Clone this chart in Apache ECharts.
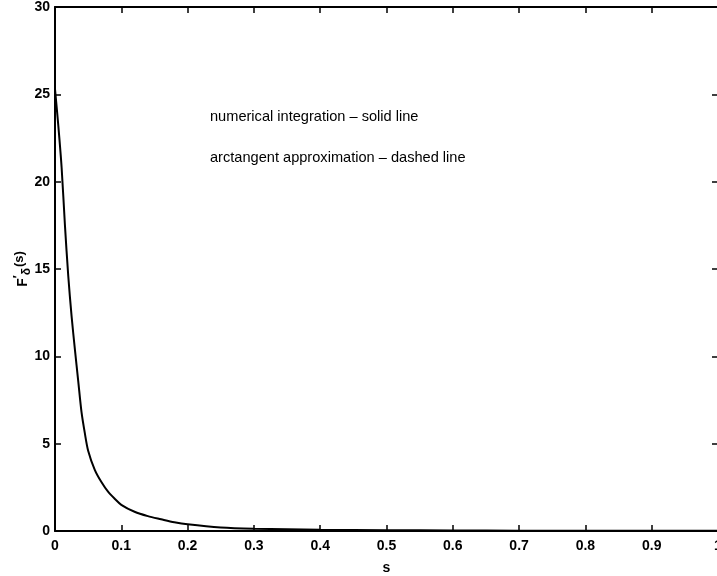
<!DOCTYPE html>
<html>
<head>
<meta charset="utf-8">
<script src="https://cdn.jsdelivr.net/npm/echarts@6/dist/echarts.min.js"></script>
<style>html,body{margin:0;padding:0;background:#fff}#c{width:717px;height:576px}</style>
</head>
<body>
<div id="c"></div>
<script>
const sValues = [0, 0.005, 0.01, 0.015, 0.02, 0.025, 0.03, 0.035, 0.04, 0.045, 0.05, 0.06, 0.07, 0.08, 0.09, 0.1, 0.12, 0.14, 0.16, 0.18, 0.2, 0.25, 0.3, 0.4, 0.5, 0.6, 0.7, 0.8, 0.9, 1.0];
const fValues = [25.3, 23.2, 20.8, 17.5, 14.6, 12.3, 10.4, 8.6, 6.8, 5.6, 4.6, 3.5, 2.8, 2.25, 1.85, 1.5, 1.1, 0.85, 0.67, 0.5, 0.38, 0.2, 0.13, 0.07, 0.045, 0.03, 0.02, 0.015, 0.01, 0.008];
const xTicks = ['0', '0.1', '0.2', '0.3', '0.4', '0.5', '0.6', '0.7', '0.8', '0.9', '1'];
const yTicks = ['0', '5', '10', '15', '20', '25', '30'];
const annotations = ['numerical integration \u2013 solid line', 'arctangent approximation \u2013 dashed line'];

const chart = echarts.init(document.getElementById('c'), null, {renderer: 'canvas'});
const FF = 'Liberation Sans, Arial, sans-serif';
const lab = {fontFamily: FF, fontWeight: 'bold', fontSize: 14, color: '#000'};
const axLine = {show: true, onZero: false, lineStyle: {color: '#000', width: 2}};
const tick = {show: true, inside: true, length: 6, lineStyle: {color: '#000', width: 1.5}};
chart.setOption({
  animation: false,
  backgroundColor: '#fff',
  grid: {left: 55, top: 7, right: -1, bottom: 45, containLabel: false, outerBoundsMode: 'none'},
  xAxis: [{
    type: 'value', min: 0, max: 1, interval: 0.1, position: 'bottom',
    axisLine: axLine, axisTick: tick, splitLine: {show: false},
    axisLabel: Object.assign({margin: 8, formatter: (v) => xTicks[Math.round(v * 10)]}, lab),
    name: 's', nameLocation: 'middle', nameGap: 30, nameMoveOverlap: false,
    nameTextStyle: {fontFamily: FF, fontWeight: 'bold', fontSize: 14, color: '#000'}
  }, {
    type: 'value', min: 0, max: 1, interval: 0.1, position: 'top',
    axisLine: axLine, axisTick: tick, axisLabel: {show: false}, splitLine: {show: false}
  }],
  yAxis: [{
    type: 'value', min: 0, max: 30, interval: 5, position: 'left',
    axisLine: axLine, axisTick: tick, splitLine: {show: false},
    axisLabel: Object.assign({margin: 5, formatter: (v) => yTicks[Math.round(v / 5)]}, lab),
    name: '{f|F}{p|\u2032}{d|\u03b4}{n|(s)}', nameLocation: 'middle', nameGap: 22, nameRotate: 90, nameMoveOverlap: false,
    nameTextStyle: {
      rich: {
        f: {fontFamily: FF, fontWeight: 'bold', fontSize: 14, color: '#000'},
        p: {fontFamily: FF, fontWeight: 'bold', fontSize: 12, color: '#000', padding: [0, 0, 8, 0]},
        d: {fontFamily: FF, fontWeight: 'bold', fontSize: 12, color: '#000', padding: [8, 1, 0, 0]},
        n: {fontFamily: FF, fontWeight: 'bold', fontSize: 13, color: '#000', padding: [0, 0, 7, 0]}
      }
    }
  }, {
    type: 'value', min: 0, max: 30, interval: 5, position: 'right',
    axisLine: axLine, axisTick: tick, axisLabel: {show: false}, splitLine: {show: false}
  }],
  graphic: [
    {type: 'text', left: 210, top: 109, style: {text: annotations[0], font: '14.6px "Liberation Sans", Arial, sans-serif', fill: '#000'}},
    {type: 'text', left: 210, top: 150, style: {text: annotations[1], font: '14.6px "Liberation Sans", Arial, sans-serif', fill: '#000'}}
  ],
  series: [{
    type: 'line', xAxisIndex: 0, yAxisIndex: 0,
    data: sValues.map((s, i) => [s, fValues[i]]),
    showSymbol: false, smooth: 0.3,
    lineStyle: {color: '#000', width: 2}
  }]
});
</script>
</body>
</html>
